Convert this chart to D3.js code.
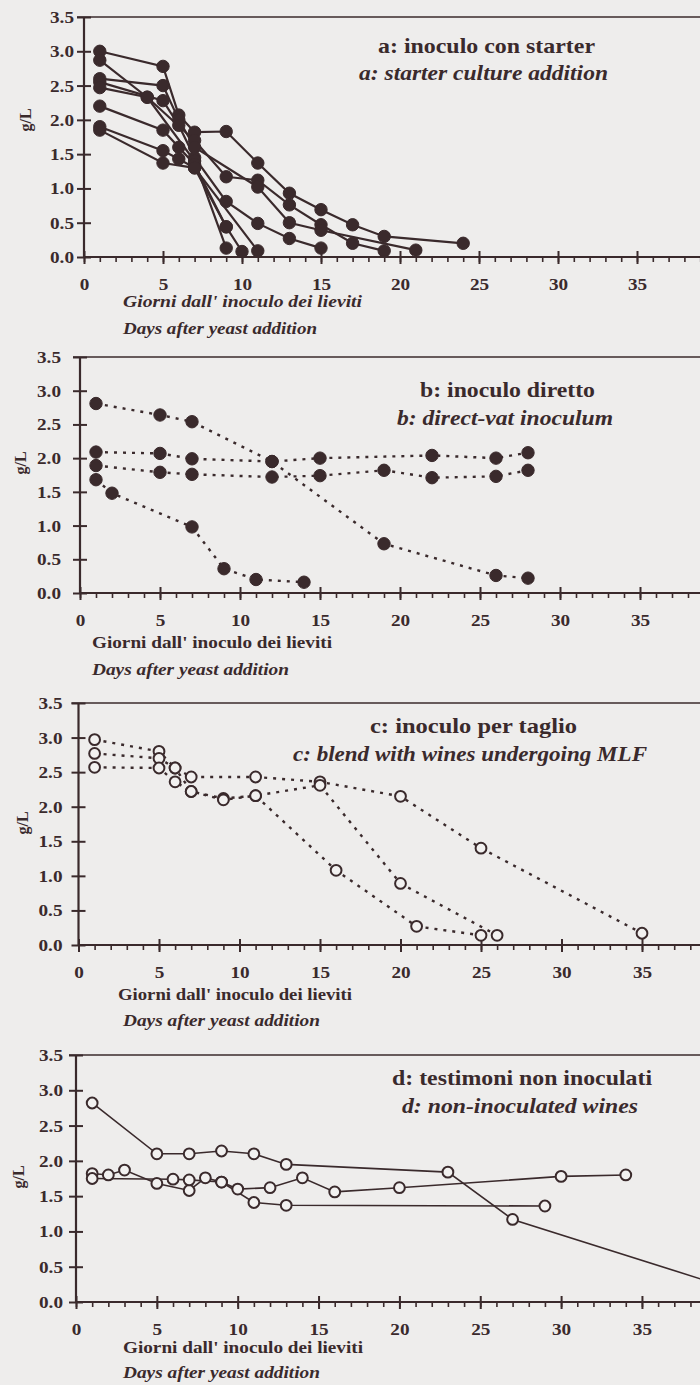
<!DOCTYPE html>
<html><head><meta charset="utf-8">
<script src="https://cdn.jsdelivr.net/npm/d3@7"></script>
<style>
html,body{margin:0;padding:0;background:#eeedec;}
svg{display:block;font-family:"Liberation Serif","DejaVu Serif",serif;}
</style></head>
<body>
<script>
// ---------------- DATA ----------------
const xTicks = [0, 5, 10, 15, 20, 25, 30, 35];
const yTicks = [0, 0.5, 1.0, 1.5, 2.0, 2.5, 3.0, 3.5];
const yLabel = "g/L";
const xTitleIt = "Giorni dall' inoculo dei lieviti";
const xTitleEn = "Days after yeast addition";

// a: starter culture addition (filled circles, solid lines)
const seriesA = [
  [[1,3.0],[5,2.78],[6,2.07],[7,1.82],[9,1.83],[11,1.37],[13,0.93],[15,0.69],[17,0.47],[19,0.3],[24,0.2]],
  [[1,2.87],[4,2.33],[7,1.7],[9,1.17],[11,1.12],[13,0.76],[15,0.47],[17,0.2],[19,0.09]],
  [[1,2.6],[5,2.5],[6,2.0],[7,1.6],[11,1.02],[13,0.5],[15,0.39],[21,0.1]],
  [[1,2.55],[5,2.28],[6,1.92],[7,1.45],[9,0.81],[11,0.49],[13,0.27],[15,0.13]],
  [[1,2.47],[4,2.33],[7,1.4],[9,0.13]],
  [[1,2.2],[5,1.85],[6,1.6],[7,1.35],[9,0.44],[10,0.08]],
  [[1,1.9],[5,1.55],[6,1.43],[7,1.3],[11,0.09]],
  [[1,1.85],[5,1.37],[7,1.3],[9,0.44]]
];
// b: direct-vat inoculum (filled circles, dotted lines)
const seriesB = [
  [[1,2.81],[5,2.64],[7,2.54],[12,1.95],[19,0.73],[26,0.26],[28,0.22]],
  [[1,2.09],[5,2.07],[7,1.99],[12,1.95],[15,2.0],[22,2.04],[26,2.0],[28,2.08]],
  [[1,1.89],[5,1.79],[7,1.76],[12,1.72],[15,1.74],[19,1.82],[22,1.71],[26,1.73],[28,1.82]],
  [[1,1.68],[2,1.48],[7,0.98],[9,0.36],[11,0.2],[14,0.16]]
];
// c: blend with wines undergoing MLF (open circles, dotted lines)
const seriesC = [
  [[1,2.97],[5,2.8],[6,2.56],[7,2.43],[11,2.43],[15,2.36],[20,2.15],[25,1.4],[35,0.17]],
  [[1,2.77],[5,2.7],[6,2.56],[7,2.22],[9,2.12],[11,2.16],[15,2.31],[20,0.89],[26,0.14]],
  [[1,2.57],[5,2.56],[6,2.36],[7,2.22],[9,2.1],[11,2.16],[16,1.08],[21,0.27],[25,0.14]]
];
// d: non-inoculated wines (open circles, solid lines)
const seriesD = [
  [[1,2.82],[5,2.1],[7,2.1],[9,2.14],[11,2.1],[13,1.95],[23,1.84],[27,1.17],[39,0.3]],
  [[1,1.82],[2,1.8],[3,1.87],[5,1.68],[7,1.58],[8,1.76],[9,1.7],[10,1.6],[12,1.62],[14,1.76],[16,1.56],[20,1.62],[30,1.78],[34,1.8]],
  [[1,1.75],[6,1.74],[7,1.73],[9,1.7],[11,1.41],[13,1.37],[29,1.36]]
];

const titlesIt = ["a: inoculo con starter","b: inoculo diretto","c: inoculo per taglio","d: testimoni non inoculati"];
const titlesEn = ["a: starter culture addition","b: direct-vat inoculum","c: blend with wines undergoing MLF","d: non-inoculated wines"];

// ---------------- LAYOUT ----------------
const W = 700, H = 1385;
const INK = "#3a2a2c";
const BG = "#eeedec";
const panels = [
  {data: seriesA, x0:84, kx:15.8, y0:257, y35:17, labOff:10, filled:true, dotted:false,
   t1:[378,53,217], t2:[359,80,249], g1:[123,307,239,true], g2:[123,334,194], yl:[25,120]},
  {data: seriesB, x0:80, kx:16.0, y0:593, y35:357, labOff:19, filled:true, dotted:true,
   t1:[420,397,175], t2:[397,425,216], g1:[92,648,240,false], g2:[92,675,197], yl:[20,463]},
  {data: seriesC, x0:78.5, kx:16.1, y0:945, y35:703, labOff:16, filled:false, dotted:true,
   t1:[370,733,207], t2:[293,761,354], g1:[118,1000,234,false], g2:[123,1026,197], yl:[22,823]},
  {data: seriesD, x0:76, kx:16.17, y0:1302, y35:1055, labOff:13, filled:false, dotted:false,
   t1:[392,1085,260], t2:[402,1113,236], g1:[123,1353,240,false], g2:[123,1378,197], yl:[18,1177]}
];

const svg = d3.select("body").append("svg").attr("width", W).attr("height", H);
svg.append("rect").attr("width", W).attr("height", H).attr("fill", BG);

function stretch(sel, k) {
  sel.each(function() {
    const l = this.getComputedTextLength();
    this.setAttribute("textLength", l * k);
    this.setAttribute("lengthAdjust", "spacingAndGlyphs");
  });
}
function fixedText(g, txt, spec, size, italic) {
  return g.append("text").attr("x", spec[0]).attr("y", spec[1])
    .attr("textLength", spec[2]).attr("lengthAdjust", "spacingAndGlyphs")
    .attr("font-size", size).attr("font-weight", "bold")
    .attr("font-style", italic ? "italic" : "normal")
    .attr("fill", INK).text(txt);
}

panels.forEach((p, i) => {
  const g = svg.append("g");
  const x = d3.scaleLinear().domain([0, 40]).range([p.x0, p.x0 + 40 * p.kx]);
  const y = d3.scaleLinear().domain([0, 3.5]).range([p.y0, p.y35]);

  // top frame line at 3.5
  g.append("line").attr("x1", x(0) - 7).attr("x2", W).attr("y1", y(3.5)).attr("y2", y(3.5))
    .attr("stroke", INK).attr("stroke-width", 1.4);

  // minor x ticks
  const minor = g.append("g").attr("transform", `translate(0,${y(0)})`)
    .call(d3.axisBottom(x).tickValues(d3.range(0, 41, 1)).tickSize(5).tickFormat(""));
  minor.select(".domain").remove();
  minor.selectAll("line").attr("stroke", INK).attr("stroke-width", 1.6);

  // major x ticks
  const xa = g.append("g").attr("transform", `translate(0,${y(0)})`)
    .call(d3.axisBottom(x).tickValues(xTicks).tickFormat(d3.format("d")));
  xa.select(".domain").remove();
  xa.selectAll("line").attr("y1", -6).attr("y2", 7).attr("stroke", INK).attr("stroke-width", 2);
  xa.selectAll("text").attr("y", 33).attr("dy", 0).attr("fill", INK)
    .attr("font-size", 16).attr("font-weight", "bold")
    .attr("font-family", "Liberation Serif, serif");
  stretch(xa.selectAll("text"), 1.2);

  // y axis
  const ya = g.append("g").attr("transform", `translate(${x(0)},0)`)
    .call(d3.axisLeft(y).tickValues(yTicks).tickFormat(d3.format(".1f")));
  ya.select(".domain").remove();
  ya.selectAll("line").attr("x1", -7).attr("x2", 7).attr("stroke", INK).attr("stroke-width", 2);
  ya.selectAll("text").attr("x", -p.labOff).attr("dy", "0.34em").attr("fill", INK)
    .attr("font-size", 16).attr("font-weight", "bold")
    .attr("font-family", "Liberation Serif, serif");
  stretch(ya.selectAll("text"), 1.2);

  // axis lines
  g.append("line").attr("x1", x(0)).attr("x2", W).attr("y1", y(0)).attr("y2", y(0))
    .attr("stroke", INK).attr("stroke-width", 2.2);
  g.append("line").attr("x1", x(0)).attr("x2", x(0)).attr("y1", y(0)).attr("y2", y(3.5))
    .attr("stroke", INK).attr("stroke-width", 2.2);

  // series lines
  const line = d3.line().x(d => x(d[0])).y(d => y(d[1]));
  p.data.forEach(s => {
    g.append("path").attr("d", line(s)).attr("fill", "none").attr("stroke", INK)
      .attr("stroke-width", p.dotted ? 2.4 : (p.filled ? 2.2 : 1.6))
      .attr("stroke-dasharray", p.dotted ? "3,6" : null);
  });
  // markers
  p.data.forEach(s => {
    g.selectAll(null).data(s).enter().append("circle")
      .attr("cx", d => x(d[0])).attr("cy", d => y(d[1]))
      .attr("r", p.filled ? 6.2 : 5.4)
      .attr("fill", p.filled ? INK : "#f2f1f0")
      .attr("stroke", INK).attr("stroke-width", p.filled ? 1 : 2);
  });

  // titles
  fixedText(g, titlesIt[i], p.t1, 21, false);
  fixedText(g, titlesEn[i], p.t2, 20, true);
  fixedText(g, xTitleIt, p.g1, 16, p.g1[3]);
  fixedText(g, xTitleEn, p.g2, 16, true);

  // y label
  g.append("text").attr("transform", `translate(${p.yl[0]},${p.yl[1]}) rotate(-90)`)
    .attr("text-anchor", "middle").attr("dy", "0.35em")
    .attr("font-size", 16).attr("font-weight", "bold").attr("fill", INK).text(yLabel);
});
</script>
</body></html>
